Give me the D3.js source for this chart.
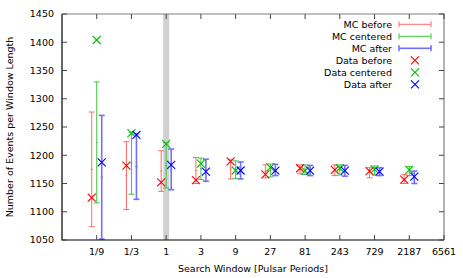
<!DOCTYPE html>
<html>
<head>
<meta charset="utf-8">
<script src="https://cdn.jsdelivr.net/npm/d3@7"></script>
<style>
  body { margin: 0; background: #fff; }
  text { font-family: "DejaVu Sans", sans-serif; font-size: 9.5px; fill: #000; }
</style>
</head>
<body>
<svg id="chart" width="463" height="278"></svg>
<script>
// search windows in pulsar periods
const windows = [1/9, 1/3, 1, 3, 9, 27, 81, 243, 729, 2187];
const tickValues = [1/9, 1/3, 1, 3, 9, 27, 81, 243, 729, 2187, 6561];
const tickLabels = ["1/9", "1/3", "1", "3", "9", "27", "81", "243", "729", "2187", "6561"];
const yTicks = [1050, 1100, 1150, 1200, 1250, 1300, 1350, 1400, 1450];

// MC: mean and half-width of the error bar
const mcBeforeMean   = [1175, 1164, 1172, 1173, 1175, 1171.5, 1175, 1173.5, 1169, 1158];
const mcBeforeErr    = [101.5, 60, 36, 23, 17, 11.5, 8, 9.5, 9, 8];
const mcCenteredMean = [1222.7, 1186, 1182, 1176, 1174.5, 1173, 1174.4, 1174, 1173, 1172];
const mcCenteredErr  = [107, 55, 40, 19, 15.5, 11.5, 8.3, 9, 8, 8];
const mcAfterMean    = [1161, 1180, 1175, 1173.5, 1173, 1174, 1173, 1172.5, 1171, 1161];
const mcAfterErr     = [109.5, 58, 36, 19.5, 15, 10, 9, 9.5, 7, 11];

// Data points
const dataBefore   = [1125, 1181.5, 1152, 1156, 1189, 1166, 1177, 1174, 1172, 1157];
const dataCentered = [1404, 1239, 1220, 1185, 1173, 1178.7, 1172.7, 1177, 1175, 1174];
const dataAfter    = [1187.5, 1236, 1183, 1171, 1173, 1172.7, 1172.7, 1172.7, 1171, 1162];

const width = 463, height = 278;
const margin = {top: 14, right: 19, bottom: 38, left: 62};

const svg = d3.select("#chart");

const x = d3.scaleLog().base(3)
    .domain([1/27, 6561])
    .range([margin.left, width - margin.right]);
const y = d3.scaleLinear()
    .domain([1050, 1450])
    .range([height - margin.bottom, margin.top]);

// gray band marking the window of 1 period
svg.append("rect")
    .attr("x", x(0.91))
    .attr("y", margin.top)
    .attr("width", x(1.1) - x(0.91))
    .attr("height", y(1050) - y(1450))
    .attr("fill", "#d0d0d0");

const mcSeries = [
    {mean: mcBeforeMean, err: mcBeforeErr, color: "#ff6a6a", width: 1, dx: -5},
    {mean: mcCenteredMean, err: mcCenteredErr, color: "#3cc83c", width: 1, dx: 0},
    {mean: mcAfterMean, err: mcAfterErr, color: "#7070ff", width: 1.6, dx: 5}
];
const dataSeries = [
    {values: dataBefore, color: "#ff0000", dx: -5},
    {values: dataCentered, color: "#00c000", dx: 0},
    {values: dataAfter, color: "#0000ff", dx: 5}
];

const cap = 3;
mcSeries.forEach(s => {
    const g = svg.append("g")
        .attr("stroke", s.color)
        .attr("stroke-width", s.width)
        .attr("fill", "none");
    windows.forEach((w, i) => {
        const cx = x(w) + s.dx;
        const top = y(s.mean[i] + s.err[i]);
        const bot = y(s.mean[i] - s.err[i]);
        g.append("line").attr("x1", cx).attr("x2", cx).attr("y1", top).attr("y2", bot);
        g.append("line").attr("x1", cx - cap).attr("x2", cx + cap).attr("y1", top).attr("y2", top);
        g.append("line").attr("x1", cx - cap).attr("x2", cx + cap).attr("y1", bot).attr("y2", bot);
        g.append("line").attr("x1", cx - 1).attr("x2", cx + 1)
            .attr("y1", y(s.mean[i])).attr("y2", y(s.mean[i]));
    });
});

function cross(g, cx, cy, r, color) {
    g.append("path")
        .attr("d", `M${cx - r},${cy - r}L${cx + r},${cy + r}M${cx - r},${cy + r}L${cx + r},${cy - r}`)
        .attr("stroke", color)
        .attr("stroke-width", 1.1)
        .attr("fill", "none");
}

dataSeries.forEach(s => {
    const g = svg.append("g");
    windows.forEach((w, i) => {
        cross(g, x(w) + s.dx, y(s.values[i]), 4, s.color);
    });
});

// frame: gray top/right, black left/bottom
const x0 = margin.left, x1 = width - margin.right;
const y0 = margin.top, y1 = height - margin.bottom;
svg.append("path")
    .attr("d", `M${x0},${y0}H${x1}V${y1}`)
    .attr("stroke", "#808080").attr("stroke-width", 1.2).attr("fill", "none");
svg.append("path")
    .attr("d", `M${x0},${y0}V${y1}H${x1}`)
    .attr("stroke", "#000").attr("stroke-width", 1.2).attr("fill", "none");

// x axis ticks (bottom and mirrored on top)
const tickLen = 5;
tickValues.forEach((t, i) => {
    const tx = x(t);
    svg.append("line").attr("x1", tx).attr("x2", tx).attr("y1", y1).attr("y2", y1 - tickLen)
        .attr("stroke", "#444");
    svg.append("line").attr("x1", tx).attr("x2", tx).attr("y1", y0).attr("y2", y0 + tickLen)
        .attr("stroke", "#444");
    svg.append("text")
        .attr("x", tx)
        .attr("y", y1 + 12)
        .attr("dy", "0.35em")
        .attr("text-anchor", "middle")
        .text(tickLabels[i]);
});

// y axis ticks (left and mirrored on right)
yTicks.forEach(t => {
    const ty = y(t);
    svg.append("line").attr("x1", x0).attr("x2", x0 + tickLen).attr("y1", ty).attr("y2", ty)
        .attr("stroke", "#444");
    svg.append("line").attr("x1", x1).attr("x2", x1 - tickLen).attr("y1", ty).attr("y2", ty)
        .attr("stroke", "#444");
    svg.append("text")
        .attr("x", x0 - 8)
        .attr("y", ty)
        .attr("dy", "0.35em")
        .attr("text-anchor", "end")
        .text(t);
});

svg.append("text")
    .attr("x", (x0 + x1) / 2)
    .attr("y", 269)
    .attr("dy", "0.35em")
    .attr("text-anchor", "middle")
    .text("Search Window [Pulsar Periods]");

svg.append("text")
    .attr("transform", `translate(10, ${(y0 + y1) / 2}) rotate(-90)`)
    .attr("dy", "0.35em")
    .attr("text-anchor", "middle")
    .text("Number of Events per Window Length");

// legend
const legendItems = [
    {label: "MC before", kind: "bar", s: mcSeries[0]},
    {label: "MC centered", kind: "bar", s: mcSeries[1]},
    {label: "MC after", kind: "bar", s: mcSeries[2]},
    {label: "Data before", kind: "pt", s: dataSeries[0]},
    {label: "Data centered", kind: "pt", s: dataSeries[1]},
    {label: "Data after", kind: "pt", s: dataSeries[2]}
];
const legend = svg.append("g");
legendItems.forEach((d, i) => {
    const ly = 24.3 + i * 12;
    legend.append("text")
        .attr("x", 392)
        .attr("y", ly)
        .attr("dy", "0.35em")
        .attr("text-anchor", "end")
        .text(d.label);
    if (d.kind === "bar") {
        const g = legend.append("g").attr("stroke", d.s.color).attr("stroke-width", d.s.width);
        g.append("line").attr("x1", 399).attr("x2", 431).attr("y1", ly).attr("y2", ly);
        g.append("line").attr("x1", 399).attr("x2", 399).attr("y1", ly - 3).attr("y2", ly + 3);
        g.append("line").attr("x1", 431).attr("x2", 431).attr("y1", ly - 3).attr("y2", ly + 3);
    } else {
        cross(legend, 415, ly, 4, d.s.color);
    }
});
</script>
</body>
</html>
